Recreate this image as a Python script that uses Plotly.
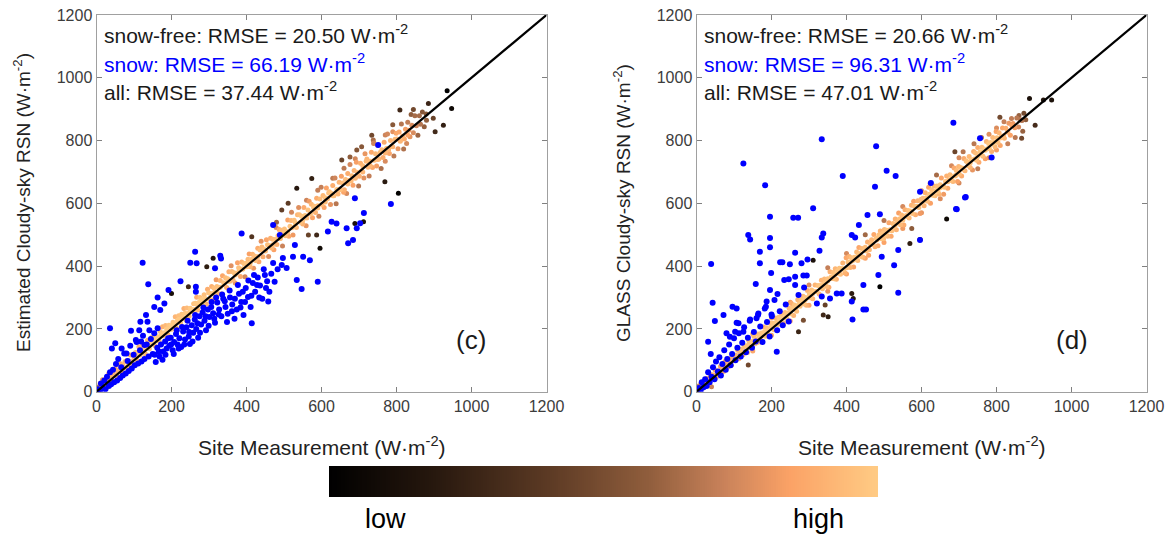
import numpy as np
import plotly.graph_objects as go

W, H = 1173, 535

# ---------------- data ----------------
ticks = [0, 200, 400, 600, 800, 1000, 1200]
one_to_one = [0, 1200]

# panel (c): estimated vs site, snow-free points
c_snowfree = [
    (1,4),(4,15),(7,5),(10,27),(13,20),(16,38),(19,14),(21,33),(24,20),(27,46),(30,36),(33,59),(36,36),(39,48),
    (41,35),(44,60),(47,52),(50,73),(53,52),(56,66),(59,87),(61,69),(64,89),(67,60),(70,84),(73,75),(76,96),(79,76),
    (81,99),(84,82),(87,98),(90,117),(93,97),(96,88),(99,114),(101,106),(104,125),(107,102),(110,123),(113,143),
    (116,117),(119,128),(121,145),(124,124),(127,143),(130,121),(133,141),(136,164),(139,142),(141,137),(144,156),
    (147,173),(150,156),(153,171),(156,146),(159,169),(161,176),(164,166),(167,161),(170,192),(173,182),(176,207),
    (179,178),(181,188),(184,211),(187,200),(190,182),(193,212),(196,199),(199,210),(201,199),(204,221),(207,213),
    (210,239),(213,204),(216,228),(219,242),(221,231),(224,219),(227,247),(230,232),(233,265),(236,250),(239,228),
    (241,267),(244,249),(247,240),(250,266),(253,262),(256,255),(259,280),(261,262),(264,282),(267,301),(270,260),
    (273,284),(276,300),(279,285),(281,294),(284,280),(287,309),(290,297),(293,279),(296,326),(299,315),(301,295),
    (304,313),(307,335),(310,292),(313,330),(316,318),(319,357),(321,335),(324,313),(327,332),(330,354),(333,311),
    (336,369),(339,347),(341,341),(344,363),(347,332),(350,360),(353,382),(356,352),(359,401),(361,383),(364,356),
    (367,379),(370,346),(373,377),(376,411),(379,395),(381,387),(384,367),(387,413),(390,391),(393,408),(396,366),
    (399,409),(401,398),(404,422),(407,439),(410,398),(413,421),(416,438),(419,393),(421,432),(424,418),(427,429),
    (430,457),(433,414),(436,451),(439,479),(441,461),(444,430),(447,454),(450,448),(453,484),(456,468),(459,431),
    (461,465),(464,489),(467,458),(470,486),(473,452),(476,485),(479,523),(481,469),(484,497),(487,517),(490,489),
    (493,514),(496,464),(499,505),(501,518),(504,497),(507,510),(510,547),(513,495),(516,527),(519,545),(521,522),
    (524,499),(527,546),(530,539),(533,523),(536,564),(539,587),(541,564),(544,540),(547,559),(550,534),(553,587),
    (556,561),(559,529),(561,553),(564,579),(567,607),(570,568),(573,597),(576,554),(579,587),(581,591),(584,571),
    (587,616),(590,592),(593,559),(596,614),(599,651),(601,596),(604,625),(607,587),(610,618),(613,649),(616,615),
    (619,633),(621,637),(624,596),(627,631),(630,657),(633,624),(636,681),(639,599),(641,644),(644,630),(647,667),
    (650,646),(653,686),(656,665),(659,635),(661,643),(664,676),(667,631),(670,695),(673,673),(676,724),(679,671),
    (681,688),(684,658),(687,705),(690,680),(693,731),(696,698),(699,655),(701,686),(704,728),(707,704),(710,720),
    (713,681),(716,758),(719,734),(721,741),(724,715),(727,687),(730,734),(733,763),(736,714),(739,791),(741,737),
    (744,758),(747,719),(750,785),(753,741),(756,762),(759,711),(761,771),(764,746),(767,795),(770,734),(773,775),
    (776,821),(779,771),(781,759),(784,800),(787,781),(790,828),(793,751),(796,804),(799,823),(801,805),(804,774),
    (807,827),(810,798),(813,853),(816,814),(819,773),(821,805),(824,836),(827,791),(830,858),(833,833),(836,812),
    (839,883),(841,849),(845,825),(849,879),(853,847),(857,817),(861,879),(864,852),(869,891),(874,844),(879,885),
    (110,116),(130,136),(150,158),(170,176),(190,196),(210,216),(230,236),(250,256),(270,274),(290,294),(310,312),
    (330,333),(350,352),(370,372),(390,391),(410,410),(430,430),(450,449),(470,468),(490,488),(510,508),(530,527),
    (550,546),(570,566),(590,585),(610,604),(630,624),(650,643),(670,662),(690,682),(710,700),(730,720),(750,740),
    (770,760),(790,780),(810,800),(830,818),
    (480,540),(520,572),(560,610),(590,642),(630,680),(660,712),(690,742),(740,792),(770,818),(790,850),
    (809,897),(845,899),(885,918),(935,959),(947,902),(925,849),(903,828),(898,871),(880,865),(734,817),(738,802),
    (694,770),(707,780),(676,748),(805,632),(769,669),(654,738),(574,679),(534,648),(494,579),(511,600),(712,541),
    (689,536),(587,499),(596,457),(565,499),(414,494),(311,425),(294,398),(245,334),(200,313),
]
c_snow = [
    (4,8),(9,3),(12,26),(17,10),(21,36),(24,8),(28,48),(33,18),(36,62),(39,24),(44,70),(47,30),(52,88),(55,36),
    (58,104),(63,44),(66,78),(70,52),(74,122),(78,58),(83,98),(86,66),(90,146),(94,74),(99,118),(102,84),(107,158),
    (111,90),(116,132),(120,96),(124,178),(128,104),(134,150),(139,112),(145,168),(150,120),
    (36,202),(41,138),(50,154),(67,138),(80,122),(92,194),(105,165),(114,196),(119,160),(128,149),(117,223),
    (132,244),(136,223),(141,196),(154,186),(163,202),(138,342),(154,270),(170,260),(163,300),(181,281),(192,324),
    (224,352),(123,411),(250,411),(263,446),(267,409),(265,334),(265,318),(330,433),(332,424),(316,393),(387,504),
    (155,118),(162,140),(168,112),(172,150),(178,128),(183,160),(187,138),(194,146),(198,172),(203,132),(207,158),
    (212,184),(216,150),(221,170),(226,142),(231,192),(236,166),(240,205),(246,176),(249,152),(254,212),(258,188),
    (262,230),(266,200),(271,172),(275,240),(279,214),(283,252),(288,226),(292,196),(297,262),(301,238),(306,270),
    (311,250),(316,220),(322,284),(327,262),(333,240),(338,296),(344,270),(350,248),(356,300),(362,278),(368,232),
    (374,262),(380,312),(386,286),(392,244),(398,330),(404,302),(411,270),(417,346),(423,318),(430,364),(436,338),
    (442,296),(449,372),(455,352),(461,318),(414,218),(458,287),
    (158,95),(166,128),(176,102),(184,118),(191,170),(199,150),(206,120),(214,196),(219,138),(228,206),(234,150),
    (243,226),(247,190),(256,160),(263,244),(269,218),(276,188),(285,268),(291,240),(299,210),(307,286),(314,232),
    (319,300),(326,246),(335,310),(342,288),(348,222),(355,322),(361,256),(369,296),(377,340),(384,268),(390,318),
    (396,286),(405,354),(413,306),(420,372),(428,340),(434,300),(446,390),(452,330),(466,376),(475,350),(483,390),
    (471,531),(489,499),(529,467),(524,430),(551,430),(497,426),(471,410),(494,404),(507,394),(534,356),(547,327),
    (590,350),(569,419),(627,541),(617,510),(640,536),(667,521),(694,521),(703,537),(671,473),(684,483),(713,569),
    (689,616),(785,598),(751,786),
]

# panel (d): GLASS vs site
d_snowfree = [
    (1,7),(4,2),(7,19),(10,12),(13,29),(16,11),(19,28),(21,18),(24,32),(27,42),(30,31),(33,26),(36,47),(39,43),
    (41,54),(44,43),(47,53),(50,69),(53,47),(56,65),(59,61),(61,65),(64,80),(67,63),(70,80),(73,65),(76,96),(79,86),
    (81,92),(84,79),(87,105),(90,93),(93,84),(96,110),(99,99),(101,99),(104,116),(107,112),(110,132),(113,105),
    (116,125),(119,135),(121,129),(124,118),(127,146),(130,131),(133,146),(136,125),(139,164),(141,156),(144,147),
    (147,138),(150,161),(153,177),(156,153),(159,166),(161,156),(164,184),(167,176),(170,158),(173,187),(176,178),
    (179,206),(181,191),(184,177),(187,204),(190,194),(193,179),(196,218),(199,205),(201,203),(204,218),(207,197),
    (210,235),(213,221),(216,213),(219,237),(221,233),(224,218),(227,248),(230,235),(233,218),(236,252),(239,239),
    (241,232),(244,251),(247,266),(250,248),(253,281),(256,267),(259,243),(261,276),(264,265),(267,256),(270,293),
    (273,279),(276,272),(279,292),(281,285),(284,304),(287,279),(290,300),(293,275),(296,322),(299,301),(301,312),
    (304,299),(307,324),(310,296),(313,319),(316,340),(319,319),(321,319),(324,338),(327,311),(330,338),(333,355),
    (336,328),(339,343),(341,359),(344,347),(347,335),(350,360),(353,333),(356,382),(359,365),(361,361),(364,380),
    (367,360),(370,392),(373,358),(376,385),(379,377),(381,393),(384,374),(387,392),(390,410),(393,389),(396,378),
    (399,427),(401,395),(404,413),(407,431),(410,396),(413,427),(416,417),(419,397),(421,428),(424,422),(427,445),
    (430,418),(433,459),(436,440),(439,431),(441,456),(444,428),(447,450),(450,460),(453,448),(456,477),(459,435),
    (461,452),(464,470),(467,484),(470,469),(473,501),(476,462),(479,490),(481,483),(484,465),(487,500),(490,512),
    (493,487),(496,504),(499,487),(501,517),(504,500),(507,514),(510,495),(513,538),(516,516),(519,495),(521,513),
    (524,536),(527,526),(530,550),(533,516),(536,541),(539,569),(541,550),(544,532),(547,563),(550,546),(553,531),
    (556,580),(559,561),(561,558),(564,577),(567,553),(570,576),(573,594),(576,568),(579,607),(581,591),(584,564),
    (587,591),(590,608),(593,587),(596,568),(599,613),(601,600),(604,616),(607,592),(610,634),(613,618),(616,607),
    (619,651),(621,629),(624,600),(627,643),(630,626),(633,655),(636,624),(639,641),(641,655),(644,638),(647,629),
    (650,659),(653,681),(656,654),(659,629),(661,651),(664,670),(667,687),(670,648),(673,674),(676,691),(679,673),
    (681,685),(684,670),(687,713),(690,687),(693,705),(696,670),(699,717),(701,693),(704,714),(707,687),(710,712),
    (713,743),(716,704),(719,735),(721,733),(724,720),(727,749),(730,714),(733,739),(736,706),(739,765),(741,741),
    (744,760),(747,737),(750,778),(753,731),(756,764),(759,755),(761,779),(764,750),(767,773),(770,742),(773,797),
    (776,774),(779,791),(781,775),(784,794),(787,765),(790,810),(793,795),(796,780),(799,829),(801,809),(804,794),
    (807,825),(810,784),(813,813),(816,840),(819,815),(821,807),(825,839),(829,827),(833,855),(837,817),(841,847),
    (844,854),(849,841),(854,872),(859,843),(864,866),(868,864),(873,887),(878,866),
    (110,114),(130,134),(150,155),(170,174),(190,194),(210,214),(230,234),(250,253),(270,273),(290,293),(310,313),
    (330,333),(350,353),(370,373),(390,392),(410,412),(430,432),(450,452),(470,471),(490,491),(510,511),(530,531),
    (550,550),(570,570),(590,590),(610,610),(630,630),(650,650),(670,669),(690,689),(710,709),(730,729),(750,749),
    (770,769),(790,789),(810,808),(830,827),
    (150,185),(200,235),(250,285),(300,340),(350,395),(400,440),(450,500),(500,545),(550,590),(600,640),(640,690),
    (680,720),(700,745),(740,790),(760,810),(780,820),(800,840),(820,860),(840,870),(860,880),
    (150,130),(200,180),(250,225),(300,275),(350,320),(400,375),(450,425),(500,475),(550,520),(600,570),(650,615),
    (700,665),(750,710),(780,745),(800,770),(830,790),(850,810),(870,830),
    (888,934),(925,929),(947,929),(903,849),(867,807),(809,874),(689,764),(711,764),(667,550),(569,472),(596,485),
    (574,520),(489,334),(414,313),(418,297),(338,244),(351,239),(343,276),(311,419),(285,228),(272,191),(138,85),
    (40,16),(623,663),
]
d_snow = [
    (6,12),(11,4),(14,30),(19,14),(23,40),(27,18),(31,62),(35,30),(40,48),(44,78),(48,40),(52,96),(57,64),(61,110),
    (65,52),(69,88),(74,132),(78,70),(82,104),(87,150),(91,84),(95,120),(100,170),(104,100),(109,140),(113,186),
    (118,112),(122,156),(127,205),(132,126),(137,172),(142,226),(148,140),(153,190),(158,160),(164,244),(170,208),
    (176,158),(182,265),(188,222),(195,176),(201,240),(208,292),(215,196),(222,256),(230,212),(238,278),(246,224),
    (685,857),(334,804),(479,782),(125,727),(183,658),(390,687),(507,704),(531,687),(476,653),(311,584),(196,557),
    (258,554),(271,554),(456,563),(489,565),(138,499),(143,485),(196,490),(338,504),(334,491),(414,499),(423,491),
    (433,531),(196,460),(169,446),(263,443),(328,449),(296,421),(280,409),(223,412),(229,412),(169,409),(249,406),
    (39,407),(199,378),(234,356),(246,358),(263,366),(285,370),(294,370),(158,343),(196,324),(263,340),(272,308),
    (287,332),(216,311),(187,287),(185,271),(43,283),(96,271),(107,265),(165,249),(160,234),(200,246),(72,244),
    (49,225),(107,220),(112,218),(143,230),(31,159),(38,120),(80,186),(89,175),(103,191),(125,191),(214,127),
    (321,281),(334,303),(356,297),(374,313),(387,313),(414,287),(416,230),(445,262),(452,262),(485,372),(494,430),
    (527,403),(538,315),(538,451),(596,483),(694,581),(716,619),(787,746),(445,340),(756,807),(596,637),(625,665),
    (718,620),(692,582),
]

# colour bar gradient (low -> high)
cbar_levels = list(np.linspace(0.0, 1.0, 256))

# ---------------- helpers ----------------
cscale = [[0.0, '#000000'], [0.18, '#24160d'], [0.40, '#5c3a24'], [0.58, '#8f5d3c'],
          [0.72, '#c9825a'], [0.84, '#fba266'], [1.0, '#ffcb84']]


def density_order(pts, h=26.0):
    x = np.array([p[0] for p in pts], float)
    y = np.array([p[1] for p in pts], float)
    d2 = (x[:, None] - x[None, :]) ** 2 + (y[:, None] - y[None, :]) ** 2
    dens = np.exp(-d2 / (2 * h * h)).sum(1)
    c = (dens - dens.min()) / (dens.max() - dens.min())
    c = c ** 0.6
    order = np.argsort(c)
    return x[order], y[order], c[order]


fig = go.Figure()

panels = [("x", "y", c_snowfree, c_snow), ("x2", "y2", d_snowfree, d_snow)]
for xa, ya, sf, sn in panels:
    sx, sy, sc = density_order(sf)
    fig.add_trace(go.Scatter(
        x=sx, y=sy, mode="markers", xaxis=xa, yaxis=ya, showlegend=False,
        marker=dict(size=5, color=sc, colorscale=cscale, cmin=0, cmax=1, line=dict(width=0)),
    ))
    fig.add_trace(go.Scatter(
        x=[p[0] for p in sn], y=[p[1] for p in sn], mode="markers", xaxis=xa, yaxis=ya,
        showlegend=False, marker=dict(size=6, color="#0000ff", line=dict(width=0)),
    ))
    fig.add_trace(go.Scatter(
        x=one_to_one, y=one_to_one, mode="lines", xaxis=xa, yaxis=ya, showlegend=False,
        line=dict(color="black", width=2.2),
    ))

# colour bar drawn as a heatmap strip
fig.add_trace(go.Heatmap(z=[cbar_levels], x=cbar_levels, y=[0], colorscale=cscale, zmin=0, zmax=1,
                         showscale=False, xaxis="x3", yaxis="y3", hoverinfo="skip"))

tickfont = dict(family="Liberation Sans Narrow, Arial Narrow, sans-serif", size=16, color="#3c3c3c")
axcommon = dict(range=[0, 1200], tickvals=ticks, ticks="inside", ticklen=5, tickcolor="#808080",
                showline=True, linecolor="#a0a0a0", linewidth=1, mirror="ticks", showgrid=False,
                zeroline=False, tickfont=tickfont, fixedrange=True)

y0, y1 = 1 - 391.7 / H, 1 - 15 / H
fig.update_layout(
    width=W, height=H, margin=dict(l=0, r=0, t=0, b=0, autoexpand=False),
    paper_bgcolor="white", plot_bgcolor="white",
    xaxis=dict(domain=[96.5 / W, 546.5 / W], anchor="y", **axcommon),
    yaxis=dict(domain=[y0, y1], anchor="x", **axcommon),
    xaxis2=dict(domain=[696.5 / W, 1146.5 / W], anchor="y2", **axcommon),
    yaxis2=dict(domain=[y0, y1], anchor="x2", **axcommon),
    xaxis3=dict(domain=[329 / W, 878 / W], anchor="y3", visible=False, range=[0, 1], fixedrange=True),
    yaxis3=dict(domain=[1 - 497 / H, 1 - 466 / H], anchor="x3", visible=False, range=[-0.5, 0.5],
                fixedrange=True),
)

ann = []
xlabfont = dict(family="Liberation Sans Narrow, Arial Narrow, sans-serif", size=21, color="#222222")
ylabfont = dict(family="Liberation Sans Narrow, Arial Narrow, sans-serif", size=19, color="#222222")
for cx in (321.5, 921.5):
    ann.append(dict(x=cx / W, y=1 - 446 / H, xref="paper", yref="paper", showarrow=False,
                    text="Site Measurement (W·m<sup>-2</sup>)", font=xlabfont,
                    xanchor="center", yanchor="middle"))
ann.append(dict(x=22 / W, y=1 - 203 / H, xref="paper", yref="paper", showarrow=False, textangle=-90,
                text="Estimated Cloudy-sky RSN (W·m<sup>-2</sup>)", font=ylabfont,
                xanchor="center", yanchor="middle"))
ann.append(dict(x=622 / W, y=1 - 203 / H, xref="paper", yref="paper", showarrow=False, textangle=-90,
                text="GLASS Cloudy-sky RSN (W·m<sup>-2</sup>)", font=ylabfont,
                xanchor="center", yanchor="middle"))

stats = [
    (102, ["snow-free: RMSE = 20.50 W·m<sup>-2</sup>", "snow: RMSE = 66.19 W·m<sup>-2</sup>",
           "all: RMSE = 37.44 W·m<sup>-2</sup>"], "(c)", 471),
    (702, ["snow-free: RMSE = 20.66 W·m<sup>-2</sup>", "snow: RMSE = 96.31 W·m<sup>-2</sup>",
           "all: RMSE = 47.01 W·m<sup>-2</sup>"], "(d)", 1072),
]
colors = ["#1a1a1a", "#0000ff", "#1a1a1a"]
ys = [34, 63, 91]
for x0, lines, tag, tx in stats:
    for t, c, yy in zip(lines, colors, ys):
        ann.append(dict(x=x0 / W, y=1 - yy / H, xref="paper", yref="paper", showarrow=False, text=t,
                        font=dict(family="Liberation Sans, Arial, sans-serif", size=21, color=c),
                        xanchor="left", yanchor="middle"))
    ann.append(dict(x=tx / W, y=1 - 340 / H, xref="paper", yref="paper", showarrow=False, text=tag,
                    font=dict(family="Liberation Sans, Arial, sans-serif", size=26, color="#1a1a1a"),
                    xanchor="center", yanchor="middle"))

for t, xx in (("low", 385), ("high", 818)):
    ann.append(dict(x=xx / W, y=1 - 519 / H, xref="paper", yref="paper", showarrow=False, text=t,
                    font=dict(family="Liberation Sans Narrow, Arial Narrow, sans-serif", size=27, color="black"),
                    xanchor="center", yanchor="middle"))

fig.update_layout(annotations=ann)
fig.write_html("out.html", config={"displayModeBar": False},
               post_script="document.body.style.margin='0';document.body.style.padding='0';"
                           "document.documentElement.style.overflow='hidden';")
